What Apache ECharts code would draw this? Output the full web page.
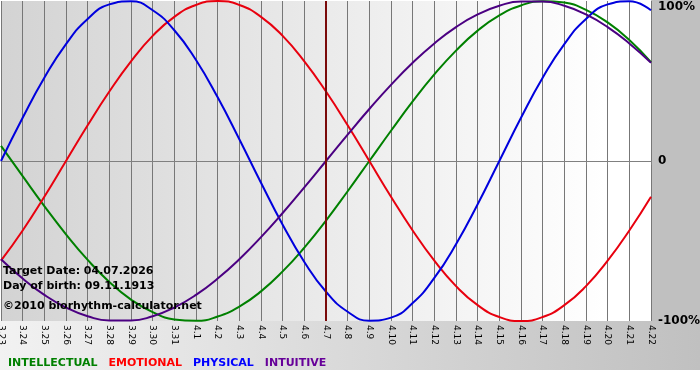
<!DOCTYPE html>
<html>
<head>
<meta charset="utf-8">
<script src="https://cdn.jsdelivr.net/npm/echarts@6/dist/echarts.min.js"></script>
<style>
html,body{margin:0;padding:0;background:#fff;}
#c{width:700px;height:380px;}
</style>
</head>
<body>
<div id="c"></div>
<script>
var days = ['3.23','3.24','3.25','3.26','3.27','3.28','3.29','3.30','3.31','4.1','4.2','4.3','4.4','4.5','4.6','4.7','4.8','4.9','4.10','4.11','4.12','4.13','4.14','4.15','4.16','4.17','4.18','4.19','4.20','4.21','4.22'];
var intellectual = [0.095,-0.095,-0.282,-0.458,-0.618,-0.756,-0.866,-0.945,-0.990,-0.999,-0.972,-0.910,-0.815,-0.690,-0.541,-0.372,-0.189,0,0.189,0.372,0.541,0.690,0.815,0.910,0.972,0.999,0.990,0.945,0.866,0.756,0.618];
var emotional = [-0.623,-0.434,-0.223,0,0.223,0.434,0.623,0.782,0.901,0.975,1.0,0.975,0.901,0.782,0.623,0.434,0.223,0,-0.223,-0.434,-0.623,-0.782,-0.901,-0.975,-1,-0.975,-0.901,-0.782,-0.623,-0.434,-0.223];
var physical = [0,0.270,0.520,0.731,0.888,0.979,0.998,0.942,0.817,0.631,0.398,0.136,-0.136,-0.398,-0.631,-0.817,-0.942,-0.998,-0.979,-0.888,-0.731,-0.520,-0.270,0,0.270,0.520,0.731,0.888,0.979,0.998,0.942];
var intuitive = [-0.614,-0.735,-0.837,-0.916,-0.970,-0.997,-0.997,-0.970,-0.916,-0.837,-0.735,-0.614,-0.476,-0.325,-0.165,0,0.165,0.325,0.476,0.614,0.735,0.837,0.916,0.970,0.997,0.997,0.970,0.916,0.837,0.735,0.614];
var yTickValues = [-1, 0, 1];
var yTickLabels = ['-100%', '0', '100%'];
var targetDay = '4.7';
var infoLines = ['Target Date: 04.07.2026', 'Day of birth: 09.11.1913', '\u00a92010 biorhythm-calculator.net'];

var chart = echarts.init(document.getElementById('c'), null, {renderer:'canvas'});
var FONT = 'DejaVu Sans';
function mkLine(name, data, color) {
  return {
    name: name, type: 'line', data: data, smooth: true, symbol: 'none',
    lineStyle: {color: color, width: 2}, itemStyle: {color: color}
  };
}
var series = [
  mkLine('INTELLECTUAL', intellectual, '#008000'),
  mkLine('EMOTIONAL', emotional, '#e8000e'),
  mkLine('PHYSICAL', physical, '#0000dd'),
  mkLine('INTUITIVE', intuitive, '#4b0082')
];
series[0].markLine = {
  silent: true, symbol: 'none', label: {show: false},
  lineStyle: {color: '#7a0a0a', width: 2, type: 'solid'},
  data: [{xAxis: targetDay}], animation: false
};

var graphics = [
  {type:'rect', z:-5, shape:{x:651, y:0, width:49, height:321}, style:{fill:'#c0c0c0'}, silent:true},
  {type:'rect', z:-5, shape:{x:0, y:321, width:700, height:49},
   style:{fill: new echarts.graphic.LinearGradient(0,0,1,0,[{offset:0,color:'#f2f2f2'},{offset:1,color:'#c0c0c0'}])}, silent:true}
];
var infoTops = [266, 281, 301];
infoLines.forEach(function(t, i){
  graphics.push({type:'text', z:50, left:3, top:infoTops[i],
    style:{text:t, font:'bold 11px "DejaVu Sans"', fill:'#000'}});
});

chart.setOption({
  animation: false,
  backgroundColor: '#ffffff',
  textStyle: {fontFamily: FONT},
  grid: {
    left: 1, right: 49, top: 1, bottom: 59, show: true, borderWidth: 0,
    containLabel: false, outerBoundsMode: 'none',
    backgroundColor: new echarts.graphic.LinearGradient(0,0,1,0,[{offset:0,color:'#d3d3d3'},{offset:0.93,color:'#ffffff'},{offset:1,color:'#ffffff'}])
  },
  legend: {
    left: -2, top: 353, icon: 'none', itemWidth: 0, itemHeight: 8, itemGap: 6, selectedMode: false,
    textStyle: {fontFamily: FONT, fontWeight: 'bold', fontSize: 11},
    data: [
      {name:'INTELLECTUAL', textStyle:{color:'#008000'}},
      {name:'EMOTIONAL', textStyle:{color:'#ff0000'}},
      {name:'PHYSICAL', textStyle:{color:'#0000ff'}},
      {name:'INTUITIVE', textStyle:{color:'#660099'}}
    ]
  },
  xAxis: {
    type: 'category', data: days, boundaryGap: false,
    axisLine: {show: true, lineStyle: {color: '#808080', width: 1}},
    axisTick: {show: true, length: 4, interval: 0, lineStyle: {color: '#808080'}},
    splitLine: {show: true, interval: 0, lineStyle: {color: '#777777', width: 1}},
    axisLabel: {interval: 0, rotate: -90, margin: 4, color: '#000', fontSize: 9, fontFamily: FONT}
  },
  yAxis: {
    type: 'value', min: -1, max: 1, interval: 1, position: 'right',
    axisLine: {show: false}, axisTick: {show: false},
    splitLine: {show: true, lineStyle: {color: ['rgba(0,0,0,0)', '#808080', 'rgba(0,0,0,0)'], width: 1}},
    axisLabel: {
      margin: 7, color: '#000', fontWeight: 'bold', fontSize: 12, fontFamily: FONT, align: 'left',
      formatter: function(v){
        var i = yTickValues.indexOf(v);
        var s = i >= 0 ? yTickLabels[i] : '';
        return v === 1 ? '{top|' + s + '}' : s;
      },
      rich: {top: {padding: [12, 0, 0, 0], fontWeight: 'bold', fontSize: 12, fontFamily: FONT, color: '#000'}}
    }
  },
  graphic: graphics,
  series: series
});
</script>
</body>
</html>
